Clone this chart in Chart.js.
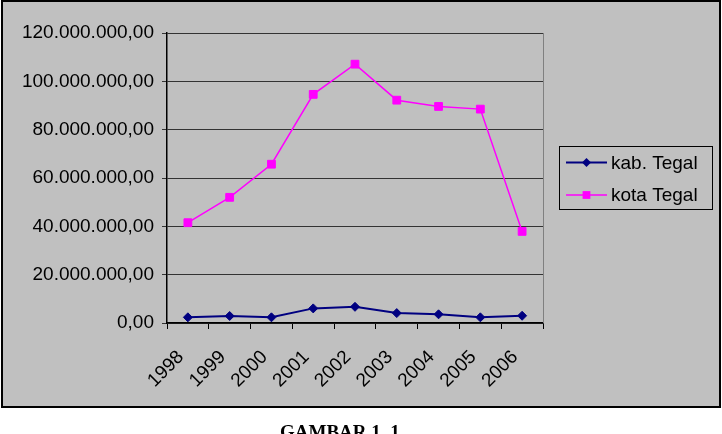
<!DOCTYPE html>
<html>
<head>
<meta charset="utf-8">
<script src="https://cdn.jsdelivr.net/npm/chart.js@4.4.1/dist/chart.umd.min.js"></script>
<style>
  html, body { margin: 0; padding: 0; background: #ffffff; }
  body { width: 722px; height: 434px; position: relative; overflow: hidden; }
  #frame { position: absolute; left: 1px; top: 0px; width: 720px; height: 408px; box-sizing: border-box; border: 2px solid #000; background: #c0c0c0; }
  #c { position: absolute; left: 0; top: 0; }
  #caption { position: absolute; left: 280px; top: 422px; font-family: "Liberation Serif", "Times New Roman", serif; font-weight: bold; font-size: 19px; line-height: 19px; color: #000; white-space: nowrap; }
</style>
</head>
<body>
<div id="frame"></div>
<canvas id="c" width="722" height="434"></canvas>
<div id="caption">GAMBAR 1. 1</div>
<script>
const years = ['1998', '1999', '2000', '2001', '2002', '2003', '2004', '2005', '2006'];
const kabTegal = [2350000, 2900000, 2350000, 6050000, 6700000, 4100000, 3600000, 2350000, 3000000];
const kotaTegal = [41500000, 52000000, 65700000, 94600000, 107100000, 92200000, 89600000, 88500000, 37900000];
const seriesNames = ['kab. Tegal', 'kota Tegal'];
const yMin = 0, yMax = 120000000, yStep = 20000000;

function fmt(v) {
  return String(Math.round(v)).replace(/\B(?=(\d{3})+(?!\d))/g, '.') + ',00';
}

const FONT = "'Liberation Sans', Arial, sans-serif";

const legendPlugin = {
  id: 'customLegend',
  afterDraw(chart) {
    const ctx = chart.ctx;
    const ca = chart.chartArea;
    ctx.save();
    // plot area right border
    ctx.strokeStyle = '#808080';
    ctx.lineWidth = 1;
    ctx.beginPath();
    ctx.moveTo(Math.round(ca.right) + 0.5, ca.top);
    ctx.lineTo(Math.round(ca.right) + 0.5, ca.bottom);
    ctx.stroke();
    // legend box
    ctx.strokeStyle = '#000';
    ctx.lineWidth = 1;
    ctx.strokeRect(559.5, 146.5, 153, 63);
    const rows = [162.5, 195];
    chart.data.datasets.forEach((ds, i) => {
      const y = rows[i];
      ctx.strokeStyle = ds.borderColor;
      ctx.lineWidth = ds.borderWidth;
      ctx.beginPath();
      ctx.moveTo(566, y);
      ctx.lineTo(607, y);
      ctx.stroke();
      const cx = 586.5;
      ctx.fillStyle = ds.pointBackgroundColor;
      ctx.beginPath();
      if (ds.pointStyle === 'rectRot') {
        const r = ds.pointRadius;
        ctx.moveTo(cx - r, y); ctx.lineTo(cx, y - r); ctx.lineTo(cx + r, y); ctx.lineTo(cx, y + r);
        ctx.closePath();
      } else {
        const s = Math.SQRT1_2 * ds.pointRadius;
        ctx.rect(cx - s, y - s, 2 * s, 2 * s);
      }
      ctx.fill();
      ctx.fillStyle = '#000';
      ctx.font = '19px ' + FONT;
      ctx.textBaseline = 'middle';
      ctx.textAlign = 'left';
      ctx.fillText(ds.label, 611, y + 1);
    });
    ctx.restore();
  }
};

new Chart(document.getElementById('c'), {
  type: 'line',
  data: {
    labels: years,
    datasets: [
      {
        label: seriesNames[0],
        data: kabTegal,
        borderColor: '#000080',
        backgroundColor: '#000080',
        pointBackgroundColor: '#000080',
        pointBorderColor: '#000080',
        pointStyle: 'rectRot',
        pointRadius: 4.5,
        pointBorderWidth: 1,
        borderWidth: 2,
        tension: 0
      },
      {
        label: seriesNames[1],
        data: kotaTegal,
        borderColor: '#ff00ff',
        backgroundColor: '#ff00ff',
        pointBackgroundColor: '#ff00ff',
        pointBorderColor: '#ff00ff',
        pointStyle: 'rect',
        pointRadius: 5.5,
        pointBorderWidth: 1,
        borderWidth: 1.5,
        tension: 0
      }
    ]
  },
  options: {
    responsive: false,
    animation: false,
    devicePixelRatio: 1,
    layout: { padding: { top: 33, right: 179, bottom: 0, left: 0 } },
    plugins: { legend: { display: false }, tooltip: { enabled: false } },
    scales: {
      x: {
        offset: true,
        grid: { drawOnChartArea: false, drawTicks: true, tickLength: 6, offset: true, color: '#000' },
        border: { color: '#000', width: 1.5 },
        ticks: { color: '#000', font: { family: FONT, size: 19 }, minRotation: 45, maxRotation: 45, autoSkip: false, padding: 17, labelOffset: -7 },
        afterFit(scale) { scale.height = 111; }
      },
      y: {
        min: yMin, max: yMax,
        grid: { color: '#333', lineWidth: 1, drawTicks: true, tickLength: 5 },
        border: { color: '#000', width: 1.5 },
        ticks: { stepSize: yStep, color: '#000', font: { family: FONT, size: 19 }, padding: 8, callback: (v) => fmt(v) },
        afterFit(scale) { scale.width = 167; }
      }
    }
  },
  plugins: [legendPlugin]
});
</script>
</body>
</html>
